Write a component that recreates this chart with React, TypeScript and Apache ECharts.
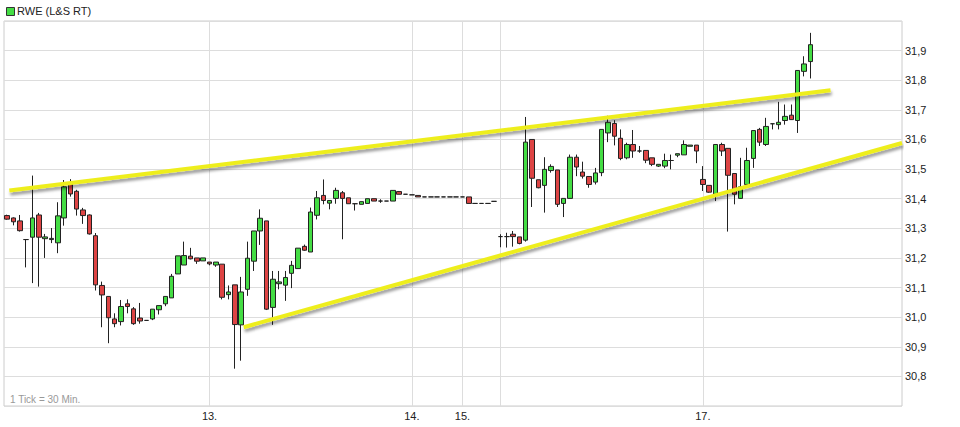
import React, { useEffect, useRef } from "react";
import * as echarts from "echarts";

// 30-minute slots on the x axis (the last ones are still empty)
const SLOT_COUNT = 142;

const opens = [
  31.343, 31.335, 31.325, 31.262, 31.27, 31.345, 31.265, 31.262, 31.251, 31.335,
  31.449, 31.425, 31.362, 31.345, 31.275, 31.107, 31.07, 30.994, 30.985, 31.045,
  31.028, 30.997, 30.989, 30.994, 31.025, 31.045, 31.065, 31.146, 31.176, 31.206,
  31.2, 31.19, 31.186, 31.176, 31.179, 31.076, 31.109, 30.974, 31.094, 31.189,
  31.291, 31.325, 31.033, 31.113, 31.108, 31.148, 31.164, 31.239, 31.22, 31.344,
  31.411, 31.385, 31.401, 31.42, 31.403, 31.383, 31.381, 31.384, 31.4, 31.392,
  31.392, 31.392, 31.424, 31.415, 31.413, 31.411, 31.406, 31.406, 31.406, 31.406,
  31.406, 31.406, 31.406, 31.406, 31.384, 31.384, 31.384, 31.391, 31.272, 31.272,
  31.28, 31.271, 31.26, 31.6, 31.464, 31.445, 31.495, 31.497, 31.384, 31.401,
  31.54, 31.49, 31.475, 31.456, 31.488, 31.622, 31.654, 31.604, 31.538, 31.583,
  31.561, 31.563, 31.538, 31.51, 31.51, 31.529, 31.547, 31.548, 31.577, 31.581,
  31.465, 31.445, 31.415, 31.583, 31.57, 31.485, 31.401, 31.448, 31.536, 31.634,
  31.583, 31.653, 31.65, 31.664, 31.682, 31.664, 31.83, 31.863,
];

const closes = [
  31.331, 31.322, 31.292, 31.262, 31.335, 31.27, 31.271, 31.266, 31.342, 31.44,
  31.416, 31.365, 31.343, 31.281, 31.109, 31.075, 30.998, 30.978, 31.036, 31.036,
  30.978, 30.987, 30.989, 31.027, 31.039, 31.07, 31.138, 31.207, 31.208, 31.197,
  31.189, 31.2, 31.18, 31.186, 31.067, 31.085, 30.975, 31.085, 31.199, 31.291,
  31.334, 31.027, 31.128, 31.119, 31.134, 31.175, 31.233, 31.226, 31.355, 31.403,
  31.394, 31.394, 31.428, 31.401, 31.383, 31.383, 31.39, 31.4, 31.392, 31.392,
  31.392, 31.428, 31.415, 31.415, 31.413, 31.406, 31.406, 31.406, 31.406, 31.406,
  31.406, 31.406, 31.406, 31.384, 31.384, 31.384, 31.384, 31.391, 31.272, 31.272,
  31.272, 31.249, 31.591, 31.469, 31.437, 31.499, 31.509, 31.381, 31.401, 31.54,
  31.507, 31.476, 31.448, 31.487, 31.634, 31.658, 31.611, 31.536, 31.583, 31.561,
  31.561, 31.53, 31.516, 31.516, 31.529, 31.529, 31.552, 31.583, 31.581, 31.561,
  31.448, 31.422, 31.583, 31.561, 31.479, 31.415, 31.44, 31.529, 31.63, 31.591,
  31.644, 31.653, 31.658, 31.678, 31.667, 31.833, 31.855, 31.92,
];

const lows = [
  31.329, 31.31, 31.289, 31.168, 31.115, 31.103, 31.2, 31.25, 31.216, 31.309,
  31.407, 31.343, 31.315, 31.279, 31.09, 30.966, 30.912, 30.966, 30.972, 31.013,
  30.974, 30.978, 30.989, 30.99, 31.009, 31.037, 31.065, 31.146, 31.176, 31.195,
  31.18, 31.19, 31.175, 31.17, 31.06, 31.06, 30.826, 30.853, 31.072, 31.156,
  31.244, 31.024, 30.974, 31.094, 31.055, 31.098, 31.164, 31.224, 31.22, 31.33,
  31.381, 31.364, 31.383, 31.263, 31.383, 31.36, 31.381, 31.384, 31.392, 31.386,
  31.392, 31.392, 31.415, 31.415, 31.413, 31.406, 31.406, 31.406, 31.406, 31.406,
  31.406, 31.406, 31.406, 31.384, 31.384, 31.384, 31.384, 31.391, 31.236, 31.235,
  31.238, 31.246, 31.255, 31.372, 31.435, 31.353, 31.488, 31.372, 31.338, 31.401,
  31.476, 31.468, 31.437, 31.448, 31.476, 31.591, 31.58, 31.53, 31.533, 31.538,
  31.555, 31.52, 31.51, 31.507, 31.503, 31.499, 31.54, 31.548, 31.577, 31.52,
  31.426, 31.42, 31.392, 31.544, 31.289, 31.381, 31.4, 31.448, 31.504, 31.578,
  31.578, 31.634, 31.634, 31.65, 31.667, 31.622, 31.813, 31.806,
];

const highs = [
  31.346, 31.337, 31.345, 31.263, 31.478, 31.352, 31.281, 31.301, 31.388, 31.463,
  31.466, 31.43, 31.369, 31.347, 31.284, 31.12, 31.07, 31.013, 31.058, 31.06,
  31.034, 31.048, 30.989, 31.027, 31.039, 31.07, 31.146, 31.207, 31.255, 31.234,
  31.2, 31.2, 31.186, 31.186, 31.179, 31.107, 31.109, 31.136, 31.255, 31.291,
  31.364, 31.325, 31.156, 31.156, 31.156, 31.19, 31.233, 31.245, 31.37, 31.426,
  31.465, 31.394, 31.437, 31.426, 31.403, 31.383, 31.39, 31.4, 31.4, 31.398,
  31.392, 31.428, 31.426, 31.415, 31.413, 31.411, 31.406, 31.406, 31.406, 31.406,
  31.406, 31.406, 31.406, 31.406, 31.384, 31.384, 31.384, 31.391, 31.28, 31.285,
  31.291, 31.271, 31.676, 31.6, 31.464, 31.54, 31.516, 31.497, 31.401, 31.549,
  31.549, 31.525, 31.475, 31.504, 31.634, 31.68, 31.665, 31.634, 31.589, 31.632,
  31.578, 31.563, 31.538, 31.516, 31.552, 31.549, 31.552, 31.597, 31.581, 31.581,
  31.51, 31.445, 31.583, 31.589, 31.57, 31.485, 31.538, 31.572, 31.63, 31.639,
  31.673, 31.653, 31.727, 31.718, 31.718, 31.833, 31.881, 31.96,
];

// day boundaries (slot index) and their labels
const dayTicks = [32, 64, 72, 78, 110];
const dayLabels = ["13.", "14.", "15.", "", "17."];

// hand-drawn trend lines: [slot, price]
const upperTrend = [
  [0.34, 31.428],
  [130.2, 31.766],
];
const lowerTrend = [
  [37.4, 30.966],
  [141.5, 31.588],
];

const FONT = "'Liberation Sans', Arial, sans-serif";

const RweChart: React.FC = () => {
  const chartRef = useRef<HTMLDivElement>(null);

  useEffect(() => {
    if (!chartRef.current) return;
    const chart = echarts.init(chartRef.current, undefined, { renderer: "svg" });

    const slots = Array.from({ length: SLOT_COUNT }, (_, i) => String(i));
    const candles = opens.map((o, i) => [o, closes[i], lows[i], highs[i]]);
    const isDay = (idx: number) => dayTicks.includes(idx);

    const trendStyle = {
      color: "#eeee1e",
      width: 4,
      shadowColor: "rgba(0,0,0,0.4)",
      shadowBlur: 3,
      shadowOffsetX: 1,
      shadowOffsetY: 3,
    };

    const option = {
      animation: false,
      backgroundColor: "#ffffff",
      textStyle: { fontFamily: FONT },
      grid: {
        left: 4,
        right: 58,
        top: 21,
        bottom: 21,
        show: true,
        borderColor: "#cccccc",
        borderWidth: 1,
      },
      xAxis: [
        {
          type: "category",
          data: slots,
          boundaryGap: true,
          axisLine: { show: false },
          axisTick: { show: false },
          axisLabel: {
            interval: (idx: number) => isDay(idx),
            formatter: (_v: string, idx: number) => dayLabels[dayTicks.indexOf(idx)] ?? "",
            color: "#222",
            fontSize: 11,
            fontFamily: FONT,
            margin: 4,
          },
          splitLine: {
            show: true,
            interval: (idx: number) => isDay(idx),
            alignWithLabel: true,
            lineStyle: { color: "#dddddd", width: 1 },
          },
        },
        {
          type: "value",
          min: -0.5,
          max: SLOT_COUNT - 0.5,
          show: false,
        },
      ],
      yAxis: {
        type: "value",
        position: "right",
        min: 30.7,
        max: 32.0,
        interval: 0.1,
        scale: true,
        axisLine: { show: false },
        axisTick: { show: false },
        axisLabel: {
          showMinLabel: false,
          showMaxLabel: false,
          margin: 3,
          color: "#222",
          fontSize: 11,
          fontFamily: FONT,
          formatter: (v: number) => v.toFixed(1).replace(".", ","),
        },
        splitLine: { lineStyle: { color: "#dddddd", width: 1 } },
      },
      graphic: [
        {
          type: "rect",
          left: 6,
          top: 7,
          shape: { width: 8, height: 8 },
          style: { fill: "#44dd44", stroke: "#333", lineWidth: 1 },
        },
        {
          type: "text",
          left: 17,
          top: 5,
          style: { text: "RWE (L&S RT)", fill: "#222", font: `11px ${FONT}` },
        },
        {
          type: "text",
          left: 10,
          top: 394,
          style: { text: "1 Tick = 30 Min.", fill: "#999999", font: `10px ${FONT}` },
        },
      ],
      series: [
        {
          name: "RWE (L&S RT)",
          type: "candlestick",
          xAxisIndex: 0,
          data: candles,
          barWidth: 5,
          itemStyle: {
            color: "#44dd44",
            color0: "#dd4444",
            borderColor: "#222",
            borderColor0: "#222",
            borderColorDoji: "#222",
            borderWidth: 1,
          },
        },
        {
          type: "line",
          xAxisIndex: 1,
          data: upperTrend,
          symbol: "none",
          silent: true,
          lineStyle: trendStyle,
        },
        {
          type: "line",
          xAxisIndex: 1,
          data: lowerTrend,
          symbol: "none",
          silent: true,
          lineStyle: trendStyle,
        },
      ],
    };

    chart.setOption(option);

    return () => {
      chart.dispose();
    };
  }, []);

  return (
    <div
      ref={chartRef}
      style={{ position: "absolute", left: 0, top: 0, width: 960, height: 427 }}
    />
  );
};

export default function App() {
  return <RweChart />;
}
